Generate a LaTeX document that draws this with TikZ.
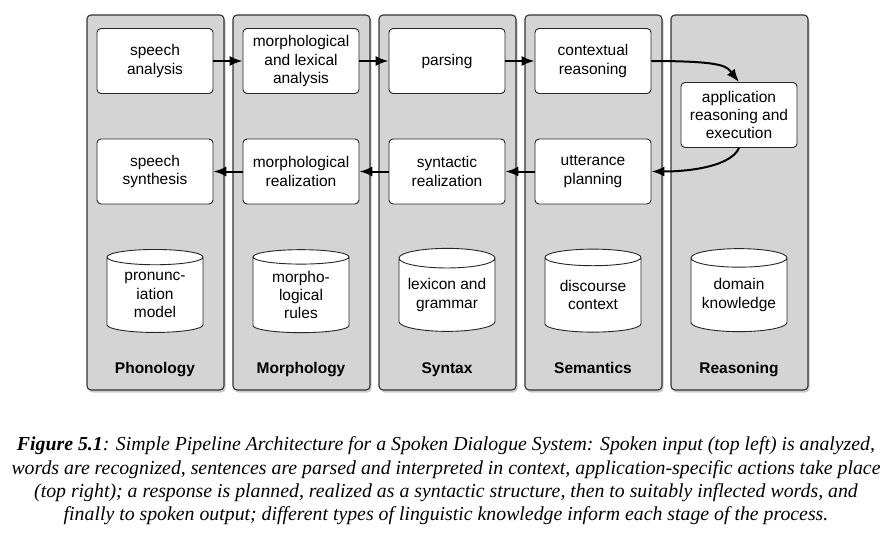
\documentclass[tikz,border=0pt]{standalone}
\usepackage{fontspec}
\setmainfont{Liberation Sans}
\newfontfamily\captionserif{Liberation Serif}
\usetikzlibrary{positioning,arrows.meta,shapes.geometric,shadows}
\tikzset{
    x=1pt,
    y=1pt,
    layer/.style = {
        draw=black!80,
        shape=rectangle,
        rounded corners=4pt,
        minimum height=375pt,
        minimum width=137pt,
        line width=1.1pt,
        fill=black!17,
        inner sep=0pt,
        drop shadow={shadow xshift=1.5pt, shadow yshift=-2.5pt, opacity=0.4}
    },
    process/.style = {
        draw=black!85,
        fill=white,
        shape=rectangle,
        rounded corners=4pt,
        minimum height=65pt,
        minimum width=116pt,
        line width=0.9pt,
        align=center,
        font=\fontsize{15.5}{18.3}\selectfont
    },
    store/.style = {
        draw=black!85,
        fill=white,
        shape=cylinder,
        shape border rotate=90,
        aspect=0.25,
        inner sep=0pt,
        minimum height=83pt,
        minimum width=96pt,
        line width=0.9pt,
        align=center,
        font=\fontsize{15.5}{18.3}\selectfont
    },
    layername/.style = {
        anchor=base,
        font=\bfseries\fontsize{15.5}{18.3}\selectfont
    },
    flow/.style = {
        draw,
        ->,
        line width=2pt
    },
    >={Latex[length=13pt,width=10pt]},
}

\begin{document}
\begin{tikzpicture}
            \useasboundingbox (0,0) rectangle (892,-535);

            \node[layer] (phon) at (155.5,-202.5) {};
            \node[layer] (morph) at (301.5,-202.5) {};
            \node[layer] (syn) at (447.5,-202.5) {};
            \node[layer] (sem) at (593.5,-202.5) {};
            \node[layer] (reas) at (739.5,-202.5) {};

            \node[process] (sa) at (155,-61) {speech\\analysis};
            \node[process] (mla) at (301,-61) {morphological\\and lexical\\analysis};
            \node[process] (pars) at (447,-61) {parsing};
            \node[process] (ctx) at (593,-61) {contextual\\reasoning};
            \node[process] (app) at (739,-115) {application\\reasoning and\\execution};
            \node[process] (utt) at (593,-171.5) {utterance\\planning};
            \node[process] (synr) at (447,-171.5) {syntactic\\realization};
            \node[process] (morr) at (301,-171.5) {morphological\\realization};
            \node[process] (ss) at (155,-171.5) {speech\\synthesis};

            \node[store] (pron) at (155,-295) {pronunc-\\iation\\model};
            \node[store] (mrules) at (301,-295) {morpho-\\logical\\rules};
            \node[store] (lexg) at (447,-295) {lexicon and\\grammar};
            \node[store] (disc) at (593,-295) {discourse\\context};
            \node[store] (dom) at (739,-295) {domain\\knowledge};

            \node[layername] at (155,-373) {Phonology};
            \node[layername] at (301,-373) {Morphology};
            \node[layername] at (447,-373) {Syntax};
            \node[layername] at (593,-373) {Semantics};
            \node[layername] at (739,-373) {Reasoning};

            \path[flow] (sa.east) -- (mla.west);
            \path[flow] (mla.east) -- (pars.west);
            \path[flow] (pars.east) -- (ctx.west);
            \path[flow] (ctx.east) .. controls +(75,0) and +(-12,15) .. (app.north);
            \path[flow] (app.south) .. controls +(-8,-18) and +(40,0) .. (utt.east);
            \path[flow] (utt.west) -- (synr.east);
            \path[flow] (synr.west) -- (morr.east);
            \path[flow] (morr.west) -- (ss.east);

            \node[align=center, inner sep=0pt, font=\captionserif\itshape\fontsize{19.8}{23.3}\selectfont] (caption) at (446,-481)
                {{\bfseries Figure 5.1}: Simple Pipeline Architecture for a Spoken Dialogue System: Spoken input (top left) is analyzed,\\
                words are recognized, sentences are parsed and interpreted in context, application-specific actions take place\\
                (top right); a response is planned, realized as a syntactic structure, then to suitably inflected words, and\\
                finally to spoken output; different types of linguistic knowledge inform each stage of the process.};
        \end{tikzpicture}
\end{document}
